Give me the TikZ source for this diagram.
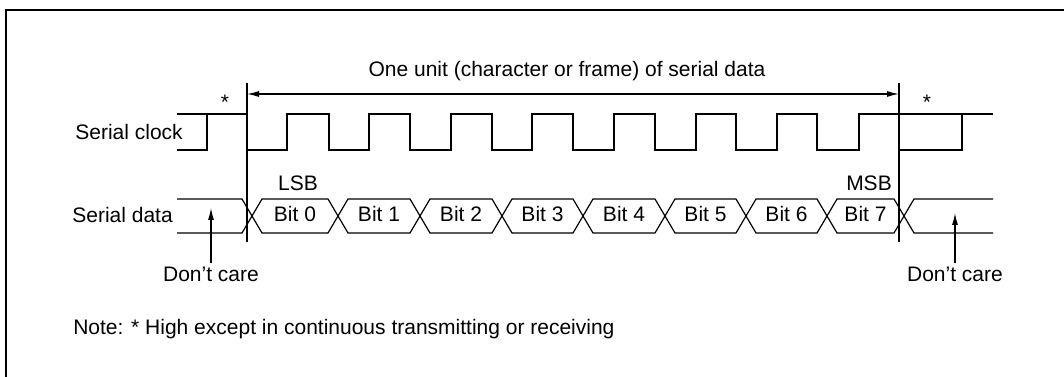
\documentclass[tikz,border=0pt]{standalone}
\usepackage{fontspec}
\setmainfont{Liberation Sans}
\usetikzlibrary{arrows.meta}
\begin{document}
\begin{tikzpicture}[x=0.75pt,y=-0.75pt,
  sig/.style={line width=0.9pt, line join=miter},
  lbl/.style={font=\fontsize{15.75pt}{18pt}\selectfont, inner sep=0pt},
  arr/.style={line width=0.9pt, -{Latex[length=9pt,width=4.5pt]}},
  dblarr/.style={line width=0.9pt, {Latex[length=9pt,width=4.5pt]}-{Latex[length=9pt,width=4.5pt]}},
]
\useasboundingbox (0,0) rectangle (1064,377);
\fill[white] (0,0) rectangle (1064,377);
% frame
\draw[line width=1.6pt] (6,377) -- (6,10) -- (1064,10);

% title and span arrow
\node[lbl, anchor=base] (title) at (567,77) {One unit (character or frame) of serial data};
\coordinate (mL) at (247,94);
\coordinate (mR) at (899,94);
\draw[sig] (247,83) -- (247,242);
\draw[sig] (899,83) -- (899,242);
\draw[dblarr] (mL) -- (mR);

% asterisks
\node[lbl, anchor=base] (s1) at (225,110) {*};
\node[lbl, anchor=base] (s2) at (927,110) {*};

% signal names
\node[lbl, anchor=base east] (clk) at (183,140) {Serial clock};
\node[lbl, anchor=base east] (dat) at (173,223) {Serial data};

% clock waveform
\draw[sig] (177,114) -- (247,114);
\draw[sig] (177,150) -- (207,150) -- (207,114);
\draw[sig] (247,114) -- (247,150) -- (287,150) -- (287,114) -- (329,114)
  -- (329,150) -- (369,150) -- (369,114) -- (410,114)
  -- (410,150) -- (451,150) -- (451,114) -- (492,114)
  -- (492,150) -- (532,150) -- (532,114) -- (573,114)
  -- (573,150) -- (614,150) -- (614,114) -- (655,114)
  -- (655,150) -- (696,150) -- (696,114) -- (736,114)
  -- (736,150) -- (777,150) -- (777,114) -- (817,114)
  -- (817,150) -- (859,150) -- (859,114) -- (993,114);
\draw[sig] (899,114) -- (899,150) -- (962,150) -- (962,114);

% data waveform
\draw[sig] (177,199) -- (242,199) -- (262,233) -- (328,233) -- (348,199) -- (410,199)
  -- (430,233) -- (492,233) -- (512,199) -- (573,199) -- (593,233) -- (655,233)
  -- (675,199) -- (736,199) -- (756,233) -- (817,233) -- (837,199) -- (894,199)
  -- (914,233) -- (993,233);
\draw[sig] (177,233) -- (242,233) -- (262,199) -- (328,199) -- (348,233) -- (410,233)
  -- (430,199) -- (492,199) -- (512,233) -- (573,233) -- (593,199) -- (655,199)
  -- (675,233) -- (736,233) -- (756,199) -- (817,199) -- (837,233) -- (894,233)
  -- (914,199) -- (993,199);

% bit labels
\node[lbl, anchor=base] (b0) at (295,222) {Bit 0};
\node[lbl, anchor=base] (b1) at (379,222) {Bit 1};
\node[lbl, anchor=base] (b2) at (461,222) {Bit 2};
\node[lbl, anchor=base] (b3) at (542.5,222) {Bit 3};
\node[lbl, anchor=base] (b4) at (624,222) {Bit 4};
\node[lbl, anchor=base] (b5) at (705.5,222) {Bit 5};
\node[lbl, anchor=base] (b6) at (786.5,222) {Bit 6};
\node[lbl, anchor=base] (b7) at (865.5,222) {Bit 7};
\node[lbl, anchor=base] (lsb) at (298,191) {LSB};
\node[lbl, anchor=base] (msb) at (869,191) {MSB};

% don't care
\node[lbl, anchor=base] (dc1) at (211,282) {Don’t care};
\node[lbl, anchor=base] (dc2) at (955,282) {Don’t care};
\coordinate (t1) at (211,208);
\coordinate (t2) at (955,213);
\draw[arr, shorten <=3pt] (dc1.north) -- (t1);
\draw[arr, shorten <=3pt] (dc2.north) -- (t2);

% note
\node[lbl, anchor=base west] (note) at (73,335) {Note: * High except in continuous transmitting or receiving};
\end{tikzpicture}
\end{document}
